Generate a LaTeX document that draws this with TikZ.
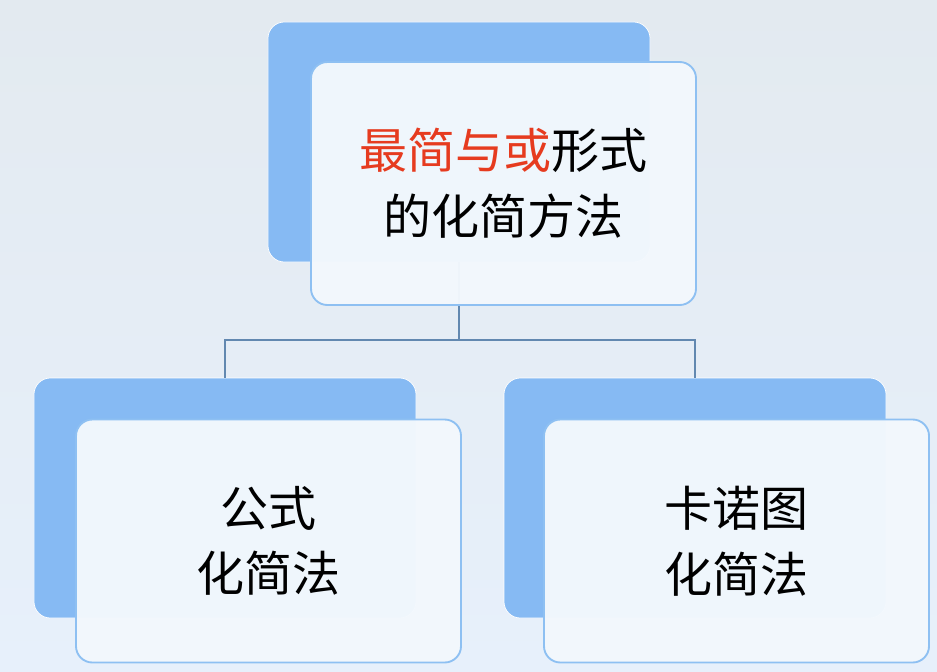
\documentclass[tikz,border=0pt]{standalone}
\usepackage{fontspec}
\newfontfamily\cjk{Noto Sans CJK SC}
\usepackage{tikz}
\usetikzlibrary{positioning}
\definecolor{backblue}{HTML}{86BAF3}
\definecolor{frontfill}{HTML}{F3F8FD}
\definecolor{frontline}{HTML}{8EC0F2}
\definecolor{linkblue}{HTML}{6288B0}
\definecolor{hotred}{HTML}{E63B1F}
\definecolor{bgtop}{HTML}{E3EAF0}
\definecolor{bgbottom}{HTML}{E7F0FB}

\begin{document}
\begin{tikzpicture}[x=0.03cm,y=-0.03cm,
    backbox/.style={rounded corners=14pt,fill=backblue,draw=white,line width=.6pt,
        minimum width=11.46cm,minimum height=7.2cm,inner sep=0pt},
    frontbox/.style={rounded corners=14pt,fill=frontfill,fill opacity=.97,text opacity=1,
        draw=frontline,line width=1.6pt,minimum width=11.55cm,minimum height=7.29cm,
        align=center,font=\cjk\fontsize{41}{56}\selectfont},
    link/.style={draw=linkblue,line width=1.8pt}]
        \useasboundingbox (0,0) rectangle (937,671);
        \shade[top color=bgtop, bottom color=bgbottom] (0,0) rectangle (937,671);
        \node[backbox] (topback) at (459,142) {};
        \node[backbox] (leftback) at (225,498) {};
        \node[backbox] (rightback) at (695,498) {};
        \coordinate (hub) at (459,340);
        \draw[link] (topback.south) -- (hub);
        \draw[link] (hub) -| (leftback.north);
        \draw[link] (hub) -| (rightback.north);
        \node[frontbox] (top) at (503.5,183.5) {\textcolor{hotred}{最简与或}形式\\的化简方法};
        \node[frontbox] (left) at (268.5,541) {公式\\化简法};
        \node[frontbox] (right) at (736.5,541) {卡诺图\\化简法};
\end{tikzpicture}
\end{document}
